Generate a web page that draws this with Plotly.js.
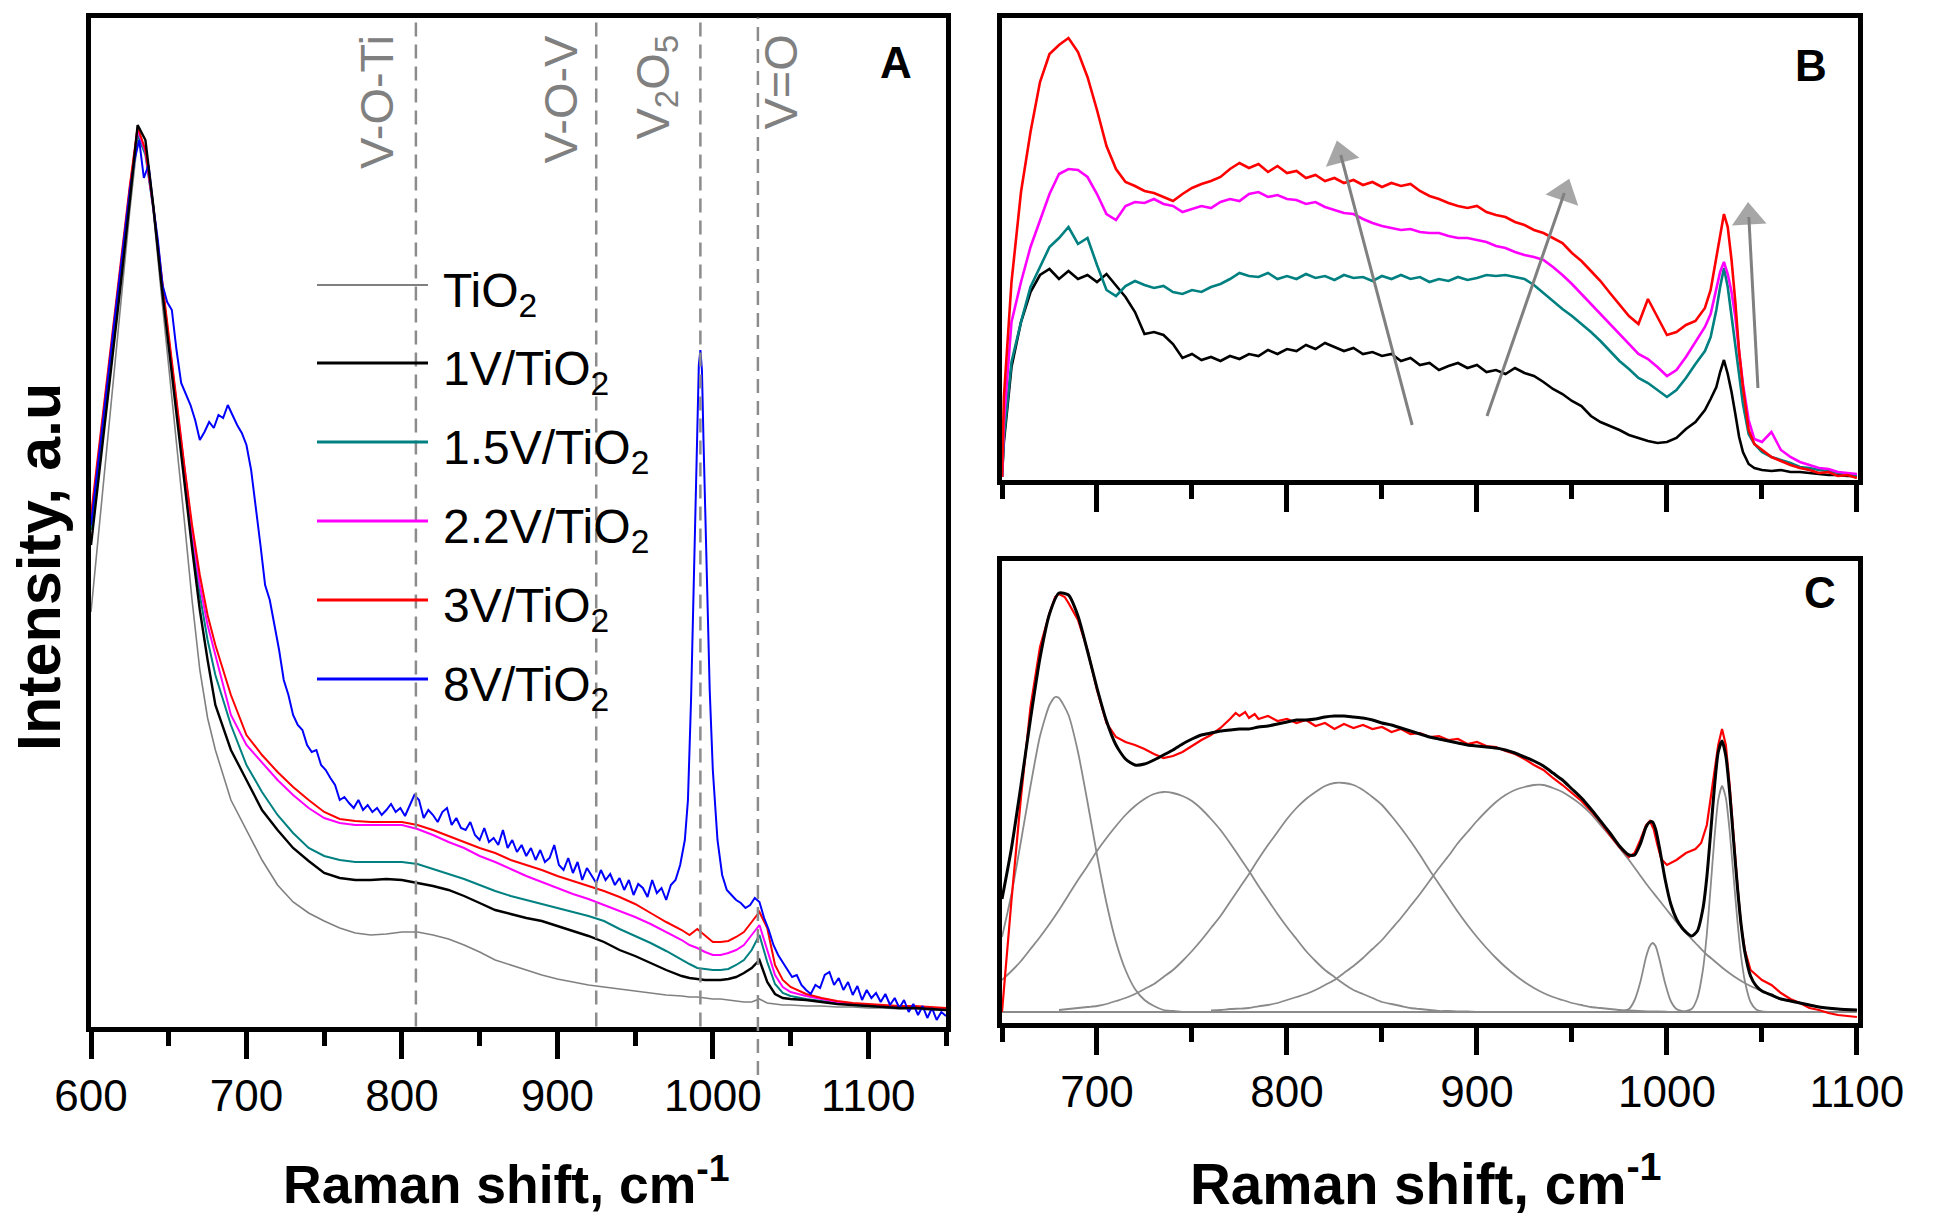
<!DOCTYPE html>
<html><head><meta charset="utf-8">
<script src="https://cdn.plot.ly/plotly-3.0.1.min.js"></script>
<style>html,body{margin:0;padding:0;background:#fff;}#chart{width:1938px;height:1222px;}</style>
</head><body><div id="chart"></div>
<script>
const FONT = 'Liberation Sans, Arial, Helvetica, sans-serif';

// ---------------- Panel A: Raman spectra (a.u.) ----------------
const xA = [600,605,610,615,620,625,630,635,640,645,650,655,660,665,670,675,680,
  690,700,710,720,730,740,750,760,770,780,790,800,810,820,830,840,850,860,870,880,890,900,910,920,930,940,950,960,970,980,
  985,990,995,1000,1005,1010,1015,1020,1025,1030,1035,1040,1045,1050,
  1060,1070,1080,1090,1100,1110,1120,1130,1140,1150];
const tio2A = [417,499,579,659,739,819,889,879,819,739,664,589,509,429,359,311,279,
  229,199,169,144,127,116,108,101,96,94,95,97,97,94,90,84,77,69,64,59,54,50,47,44,42,40,38,36,34,33,
  32,32,31,30,30,29,28,27,27,30,26,25,24,24,
  23,23,22,22,21,21,20,20,19,19];
const v1A = [484,551,619,687,757,829,904,889,824,749,681,614,547,481,419,369,324,
  279,249,219,199,181,168,156,151,149,149,150,149,146,143,139,133,126,119,115,111,108,103,98,93,87,79,73,66,59,53,
  51,50,49,49,49,50,52,56,61,69,47,35,31,30,
  29,27,25,24,23,22,21,21,20,19];
const v15A = [499,567,634,701,767,834,894,874,821,753,687,621,554,489,434,389,354,
  304,264,237,214,196,181,173,169,167,167,167,167,165,160,155,150,144,138,133,129,125,121,117,113,108,100,93,86,78,69,
  65,61,60,59,59,60,64,69,79,94,67,45,36,33,
  30,28,26,24,23,22,21,21,20,19];
const v22A = [509,574,639,707,774,841,899,877,822,754,689,624,559,499,444,404,374,
  314,284,267,249,234,221,211,206,204,204,204,204,200,194,187,181,173,167,160,153,147,141,135,130,124,118,112,105,97,89,
  84,81,77,74,74,76,79,84,94,104,79,54,42,37,
  33,30,27,25,24,23,22,22,21,20];
const v3A = [514,580,646,711,777,844,902,879,824,757,694,629,564,504,454,414,384,
  334,294,274,257,242,229,217,210,208,207,207,207,204,199,193,187,181,176,169,164,159,153,148,143,138,132,125,116,107,99,
  94,100,93,87,87,88,92,97,107,117,101,64,49,42,
  35,31,28,26,25,24,23,23,22,21];
const xA8 = [600,605,610,615,620,625,628,631,634,637,
  640,643,646,649,652,655,658,661,664,667,
  670,673,676,679,682,685,688,691,694,697,
  700,703,706,709,712,715,718,721,724,727,
  730,733,736,739,742,745,748,751,754,757,
  760,763,766,769,772,775,778,781,784,787,
  790,793,796,799,802,805,808,811,814,817,
  820,823,826,829,832,835,838,841,844,847,
  850,853,856,859,862,865,868,871,874,877,
  880,883,886,889,892,895,898,901,904,907,
  910,913,916,919,922,925,928,931,934,937,
  940,943,946,949,952,955,958,961,964,967,
  970,973,976,979,982,984,986,988,990,991,
  992,993,994,996,998,1000,1003,1006,1009,1012,
  1015,1018,1021,1024,1027,1030,1033,1036,1039,1042,
  1045,1048,1051,1054,1057,1060,1063,1066,1069,1072,
  1075,1078,1081,1084,1087,1090,1093,1096,1099,1102,
  1105,1108,1111,1114,1117,1120,1123,1126,1129,1132,
  1135,1138,1141,1144,1147,1150];
const v8A = [504,569,639,707,774,839,869,889,851,864,
  824,789,744,727,719,679,646,634,624,609,
  589,597,607,601,614,611,624,614,604,596,
  584,559,524,484,444,429,404,379,349,334,
  314,304,299,284,277,279,264,259,251,244,
  229,232,226,221,229,219,224,217,221,214,
  219,225,217,221,213,224,234,229,211,219,
  214,207,217,221,204,211,201,199,207,194,
  189,201,187,191,184,199,181,189,177,184,
  173,181,169,179,167,171,184,164,159,171,
  156,167,149,161,154,146,159,149,155,144,
  151,139,149,134,145,141,132,149,136,141,
  129,144,149,164,189,229,329,469,609,664,
  679,659,589,459,339,259,189,154,139,134,
  129,126,121,124,131,127,111,99,84,74,
  67,59,52,54,44,39,35,44,41,54,
  57,44,51,39,47,34,43,29,39,31,
  36,27,35,24,31,21,29,17,25,14,
  23,11,21,9,17,13];

// ---------------- Panel B ----------------
const xB = [650,651,655,660,665,670,675,680,685,690,
  695,700,705,710,715,720,725,730,735,740,
  745,750,755,760,765,770,775,780,785,790,
  795,800,805,810,815,820,825,830,835,840,
  845,850,855,860,865,870,875,880,885,890,
  895,900,905,910,915,920,925,930,935,940,
  945,950,955,960,965,970,975,980,985,990,
  995,1000,1005,1010,1015,1020,1023,1026,1028,1030,
  1032,1034,1036,1038,1040,1043,1046,1050,1055,1060,
  1065,1070,1075,1080,1085,1090,1095,1100];
const v3B = [5,85,200,290,350,400,428,437,444,430,
  405,372,336,313,300,296,291,289,285,281,
  288,294,298,301,305,313,319,314,318,310,
  316,309,311,304,307,301,304,299,302,297,
  300,295,299,296,298,291,286,283,279,276,
  274,276,270,267,265,260,257,252,249,244,
  239,229,221,211,201,189,178,166,158,183,
  165,147,150,157,161,174,192,225,250,268,
  255,222,180,130,95,52,38,32,25,21,
  17,14,12,9,10,6,7,4];
const v22B = [5,60,160,200,235,262,288,308,313,312,
  305,288,268,262,276,280,279,283,278,276,
  270,273,276,274,280,283,281,288,290,285,
  287,283,282,278,280,275,272,269,268,263,
  259,256,254,252,253,250,249,249,246,244,
  244,242,240,236,234,230,227,225,222,215,
  207,198,188,178,168,157,147,138,128,123,
  115,106,112,125,140,155,168,195,210,220,
  208,190,165,130,98,62,43,40,50,32,
  25,20,17,14,13,10,9,8];
const v15B = [5,45,120,160,195,215,235,244,255,238,
  244,217,192,186,196,201,197,194,196,190,
  188,192,190,195,198,203,209,206,205,209,
  203,206,203,208,204,206,202,207,204,205,
  201,206,203,207,203,205,200,203,201,205,
  202,204,207,206,207,205,203,197,189,181,
  173,166,158,150,141,131,121,113,104,99,
  92,85,92,104,118,131,145,172,195,214,
  195,165,140,110,78,48,38,30,25,22,
  19,15,14,12,11,9,8,6];
const v1B = [5,40,115,160,190,207,213,203,211,203,
  207,200,208,196,185,170,148,150,147,138,
  124,128,122,125,121,126,123,128,126,132,
  128,133,131,137,133,139,135,131,134,128,
  130,126,128,121,124,117,119,112,116,119,
  114,117,110,112,108,114,109,106,100,93,
  88,81,76,66,60,56,52,47,44,41,
  39,40,44,53,60,72,83,95,110,122,
  108,90,68,45,30,18,14,12,11,12,
  10,10,9,8,7,7,6,6];
// trend arrows in panel B (tail and head, panel-B units)
const arrowTailX = [865.9, 905.3, 1047.9];
const arrowTailY = [57, 66, 94];
const arrowHeadX = [828.3, 946.0, 1043.1];
const arrowHeadY = [327, 289, 265];

// ---------------- Panel C: 3V/TiO2 spectrum with Gaussian deconvolution ----------------
const xC = [650,652,655,660,665,670,675,678,680,683,
  685,690,695,700,705,710,715,720,725,730,
  735,740,745,750,755,760,765,770,773,775,
  778,780,783,785,790,795,800,805,810,815,
  820,825,830,835,840,845,850,855,860,865,
  870,875,880,885,890,895,900,905,910,915,
  920,925,930,935,940,945,950,955,960,965,
  970,975,980,983,986,989,991,993,995,997,
  1000,1005,1010,1015,1018,1021,1024,1027,1029,1031,
  1033,1035,1037,1039,1041,1044,1047,1050,1055,1060,
  1065,1070,1075,1080,1085,1090,1095,1100];
const v3C = [13,60,125,228,318,378,412,428,431,428,
  422,405,375,335,302,288,283,280,276,271,
  267,269,273,279,285,290,297,306,312,309,
  313,307,311,306,309,304,306,302,305,299,
  302,296,301,297,300,296,298,293,296,291,
  292,288,289,285,286,281,283,279,278,274,
  271,266,260,255,247,240,232,224,214,203,
  190,178,168,172,185,200,204,196,180,166,
  160,165,172,176,182,200,240,280,296,280,
  240,190,142,100,75,55,50,45,40,32,
  26,22,17,15,12,10,9,8];
const xFit = [650,655,660,665,670,675,680,685,690,695,
  700,705,710,715,720,725,730,735,740,745,
  750,755,760,765,770,775,780,785,790,795,
  800,805,810,815,820,825,830,835,840,845,
  850,855,860,865,870,875,880,885,890,895,
  900,905,910,915,920,925,930,935,940,945,
  950,955,960,965,970,975,980,983,986,989,
  991,992.4,994,996,999,1002,1005,1008,1010,1013,
  1016,1019,1021,1023,1025,1027,1029,1031,1033,1035,
  1037,1039,1041,1044,1047,1050,1055,1060,1065,1070,
  1075,1080,1090,1100];
const fitC = [126,177,240,306,367,411,432,430,409,374,
  337,304,280,266,260,261,265,270,275,281,
  286,290,292,294,295,296,296,298,299,301,
  303,305,305,306,308,309,309,308,307,305,
  302,300,297,294,291,288,286,284,282,280,
  279,278,277,275,272,268,264,259,252,245,
  236,227,216,204,192,179,170,170,181,198,
  203,203,196,178,146,121,106,97,93,89,
  94,117,148,192,238,273,284,269,233,186,
  140,101,73,49,39,34,30,26,24,22,
  20,18,16,15];
const xG1 = [650,655,660,665,670,675,678,680,685,690,695,700,705,710,715,720,725,730,735,740,745];
const g1C = [88,131,184,239,289,320,328,327,310,273,223,170,122,83,55,36,25,19,15,14,13];
const xG2 = [650,655,660,665,670,675,680,685,690,695,
  700,705,710,715,720,725,730,735,740,745,
  750,755,760,765,770,775,780,785,790,795,
  800,805,810,815,820,825,830,835,840,845,
  850,855,860,865,870,875,880,885,890,895,900];
const g2C = [45,54,64,76,88,101,115,130,145,159,
  174,187,199,210,219,226,231,233,232,229,
  224,216,206,195,182,168,154,139,125,111,
  98,86,74,64,55,48,41,35,31,27,
  23,21,19,17,16,15,14,14,13.5,13.5,13];
const xG3 = [680,685,690,695,700,705,710,715,720,725,
  730,735,740,745,750,755,760,765,770,775,
  780,785,790,795,800,805,810,815,820,825,
  830,835,840,845,850,855,860,865,870,875,
  880,885,890,895,900,905,910,915,920,925,
  930,935,940,945,950,955,960,965,970,975,
  980,985,990,995,1000];
const g3C = [15,16,17,18,19,21,24,27,31,36,
  41,48,55,64,74,85,97,109,123,137,
  151,166,180,193,206,217,226,233,239,242,
  242,240,235,228,220,209,197,184,170,155,
  141,127,113,100,88,77,67,58,50,43,
  37,32,28,25,22,20,18,17,16,15,
  14.5,14,13.7,13.5,13.3];
const xG4 = [760,765,770,775,780,785,790,795,800,805,
  810,815,820,825,830,835,840,845,850,855,
  860,865,870,875,880,885,890,895,900,905,
  910,915,920,925,930,935,940,945,950,955,
  960,965,970,975,980,985,990,995,1000,1005,
  1010,1015,1020,1025,1030,1035,1040,1045,1050,1055,
  1060,1065,1070,1075,1080,1085,1090,1095,1100];
const g4C = [14.5,15,16,16.4,17,18.7,20,22,25,28,
  31,35,40,45,52,59,67,76,85,96,
  107,119,131,144,157,169,182,193,204,214,
  223,230,235,238,240,240,237,233,227,220,
  211,200,189,177,165,152,139,127,115,103,
  92,82,72,64,56,49,43,38,34,30,
  26,24,22,20,18,17,16,15.5,15];
const xG5 = [975,980,983,986,989,991,992.4,994,996,999,1002,1005,1010];
const g5C = [13,16,25,43,68,79,82,79,66,42,24,16,13];
const xG6 = [1008,1013,1016,1019,1021,1023,1025,1027,1029,1031,1033,1035,1037,1039,1041,1044,1047,1050,1055];
const g6C = [13,16,27,56,91,138,187,225,239,227,194,150,106,69,44,23,15.5,13.5,13];
const xBase = [650,1100];
const baseC = [13,13];

// ---------------- labels & ticks ----------------
const seriesNames = ['TiO<sub>2</sub>','1V/TiO<sub>2</sub>','1.5V/TiO<sub>2</sub>','2.2V/TiO<sub>2</sub>','3V/TiO<sub>2</sub>','8V/TiO<sub>2</sub>'];
const seriesColors = ['#808080','#000000','#008080','#ff00ff','#ff0000','#0000ff'];
const bandX = [809, 925, 992, 1029];
const bandLabels = ['V-O-Ti','V-O-V','V<sub>2</sub>O<sub>5</sub>','V=O'];
const ticksA = [600,700,800,900,1000,1100];
const minorA = [650,750,850,950,1050,1150];
const ticksBC = [700,800,900,1000,1100];
const minorBC = [650,750,850,950,1050];
const xTitle = 'Raman shift, cm<sup>-1</sup>';
const yTitle = 'Intensity, a.u';

// ---------------- traces ----------------
function ln(x, y, color, width, xa, ya, shape, name) {
  return {x: x, y: y, type: 'scatter', mode: 'lines', xaxis: xa, yaxis: ya, hoverinfo: 'skip', name: name || '',
          line: {color: color, width: width, shape: shape || 'linear', smoothing: 0.6}, showlegend: false};
}
const traces = [
  ln(xA, tio2A, seriesColors[0], 1.6, 'x', 'y', null, 'TiO2'),
  ln(xA, v15A, seriesColors[2], 2, 'x', 'y', null, '1.5V/TiO2'),
  ln(xA, v22A, seriesColors[3], 2, 'x', 'y', null, '2.2V/TiO2'),
  ln(xA, v3A, seriesColors[4], 2, 'x', 'y', null, '3V/TiO2'),
  ln(xA8, v8A, seriesColors[5], 2, 'x', 'y', null, '8V/TiO2'),
  ln(xA, v1A, seriesColors[1], 2.4, 'x', 'y', null, '1V/TiO2'),

  ln(xB, v1B, seriesColors[1], 2.6, 'x2', 'y2', null, '1V/TiO2'),
  ln(xB, v15B, seriesColors[2], 2.6, 'x2', 'y2', null, '1.5V/TiO2'),
  ln(xB, v22B, seriesColors[3], 2.6, 'x2', 'y2', null, '2.2V/TiO2'),
  ln(xB, v3B, seriesColors[4], 2.6, 'x2', 'y2', null, '3V/TiO2'),

  ln(xBase, baseC, '#8a8a8a', 1.8, 'x3', 'y3', null, 'baseline'),
  ln(xG1, g1C, '#8a8a8a', 1.8, 'x3', 'y3', 'spline', 'G1'),
  ln(xG2, g2C, '#8a8a8a', 1.8, 'x3', 'y3', 'spline', 'G2'),
  ln(xG3, g3C, '#8a8a8a', 1.8, 'x3', 'y3', 'spline', 'G3'),
  ln(xG4, g4C, '#8a8a8a', 1.8, 'x3', 'y3', 'spline', 'G4'),
  ln(xG5, g5C, '#8a8a8a', 1.8, 'x3', 'y3', 'spline', 'G5'),
  ln(xG6, g6C, '#8a8a8a', 1.8, 'x3', 'y3', 'spline', 'G6'),
  ln(xC, v3C, '#ff0000', 2.2, 'x3', 'y3', null, '3V/TiO2'),
  ln(xFit, fitC, '#000000', 3, 'x3', 'y3', 'spline', 'fit')
];
arrowTailX.forEach((tx, i) => {
  traces.push({x: [tx, arrowHeadX[i]], y: [arrowTailY[i], arrowHeadY[i]], type: 'scatter', mode: 'lines+markers',
    xaxis: 'x2', yaxis: 'y2', hoverinfo: 'skip', showlegend: false, name: 'trend',
    line: {color: '#808080', width: 3},
    marker: {symbol: 'triangle-up', size: [0, 30], color: '#808080', angleref: 'previous', line: {width: 0}}});
});

// ---------------- layout ----------------
const LW = 5;
function xAxis(domain, range, anchor, majors, minors, labels) {
  return {domain: domain, range: range, anchor: anchor, showline: true, mirror: true, linecolor: '#000', linewidth: LW,
    ticks: 'outside', ticklen: 27, tickwidth: 5, tickcolor: '#000', tickmode: 'array', tickvals: majors,
    minor: {tickmode: 'array', tickvals: minors, ticks: 'outside', ticklen: 14, tickwidth: 5, tickcolor: '#000', showgrid: false},
    showticklabels: labels, tickfont: {family: FONT, size: 44, color: '#000'},
    showgrid: false, zeroline: false, fixedrange: true};
}
function yAxis(domain, range, anchor) {
  return {domain: domain, range: range, anchor: anchor, showline: true, mirror: true, linecolor: '#000', linewidth: LW,
    ticks: '', tickmode: 'array', tickvals: [], showticklabels: false, showgrid: false, zeroline: false, fixedrange: true};
}
const W = 1938, H = 1222;
const px = v => v / W, py = v => 1 - v / H;

const shapes = [];
bandX.forEach((bx, i) => {
  shapes.push({type: 'line', xref: 'x', yref: 'paper', x0: bx, x1: bx,
    y0: i === 3 ? py(1075) : py(1026.5), y1: py(17.5),
    line: {color: '#8c8c8c', width: 2.5, dash: '14px,8px'}});
});
const legendRows = [285, 363, 442, 521, 600, 679];
seriesNames.forEach((n, i) => {
  shapes.push({type: 'line', xref: 'paper', yref: 'paper', x0: px(317), x1: px(428), y0: py(legendRows[i]), y1: py(legendRows[i]),
    line: {color: seriesColors[i], width: i === 0 ? 2 : 3}});
});

const annotations = [];
seriesNames.forEach((n, i) => {
  annotations.push({xref: 'paper', yref: 'paper', x: px(441), y: py(legendRows[i]), xanchor: 'left', yanchor: 'middle',
    text: n, showarrow: false, font: {family: FONT, size: 48, color: '#000'}, yshift: -9});
});
const bandLabelPos = [377, 560, 656, 780];
bandLabels.forEach((t, i) => {
  annotations.push({xref: 'paper', yref: 'paper', x: px(bandLabelPos[i]), y: py(33),
    xanchor: 'center', yanchor: 'top', textangle: -90, text: t, showarrow: false,
    font: {family: FONT, size: 47, color: '#808080'}});
});
[['A', 896, 62], ['B', 1811, 65], ['C', 1820, 593]].forEach(p => {
  annotations.push({xref: 'paper', yref: 'paper', x: px(p[1]), y: py(p[2]), xanchor: 'center', yanchor: 'middle',
    text: '<b>' + p[0] + '</b>', showarrow: false, font: {family: FONT, size: 44, color: '#000'}});
});
annotations.push({xref: 'paper', yref: 'paper', x: px(39), y: py(567), xanchor: 'center', yanchor: 'middle', textangle: -90,
  text: '<b>' + yTitle + '</b>', showarrow: false, font: {family: FONT, size: 61, color: '#000'}});
[[506, 53.5], [1426, 56.5]].forEach(t => {
  annotations.push({xref: 'paper', yref: 'paper', x: px(t[0]), y: py(1180), xanchor: 'center', yanchor: 'middle',
    text: '<b>' + xTitle + '</b>', showarrow: false, font: {family: FONT, size: t[1], color: '#000'}});
});

const layout = {
  width: W, height: H, margin: {l: 0, r: 0, t: 0, b: 0}, paper_bgcolor: '#fff', plot_bgcolor: '#fff',
  showlegend: false, hovermode: false,
  xaxis: xAxis([px(91), px(946)], [600, 1150], 'y', ticksA, minorA, true),
  yaxis: yAxis([py(1026.5), py(17.5)], [2.5, 1011.5], 'x'),
  xaxis2: xAxis([px(1002), px(1857.5)], [650, 1100.3], 'y2', ticksBC, minorBC, false),
  yaxis2: yAxis([py(479.5), py(17.5)], [2.5, 464.5], 'x2'),
  xaxis3: xAxis([px(1002), px(1857.5)], [650, 1100.3], 'y3', ticksBC, minorBC, true),
  yaxis3: yAxis([py(1022.5), py(560.5)], [2.5, 464.5], 'x3'),
  shapes: shapes, annotations: annotations
};
Plotly.newPlot('chart', traces, layout, {staticPlot: true, displayModeBar: false});
</script></body></html>
